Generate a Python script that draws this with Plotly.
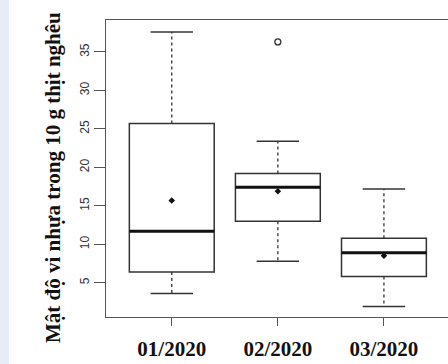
import plotly.graph_objects as go

categories = ["01/2020", "02/2020", "03/2020"]
lower_whisker = [3.6, 7.8, 1.9]
q1 = [6.4, 13.0, 5.8]
median = [11.7, 17.4, 8.9]
q3 = [25.7, 19.2, 10.8]
upper_whisker = [37.6, 23.4, 17.2]
means = [15.7, 16.9, 8.5]
outlier_cat = [2]
outlier_val = [36.3]
y_ticks = [5, 10, 15, 20, 25, 30, 35]

BOX_W = 0.8
CAP_W = 0.4
positions = [i + 1 for i in range(len(categories))]

fig = go.Figure()

for i, p in enumerate(positions):
    fig.add_trace(go.Box(
        x=[p], q1=[q1[i]], median=[median[i]], q3=[q3[i]],
        lowerfence=[q1[i]], upperfence=[q3[i]],
        width=BOX_W, whiskerwidth=0,
        fillcolor="white", line=dict(color="#333333", width=1.5),
        showlegend=False, hoverinfo="skip",
    ))
    # whiskers
    fig.add_trace(go.Scatter(
        x=[p, p, None, p, p],
        y=[q3[i], upper_whisker[i], None, q1[i], lower_whisker[i]],
        mode="lines", line=dict(color="#333333", width=1.3, dash="3px,3px"),
        showlegend=False, hoverinfo="skip",
    ))
    # caps
    fig.add_trace(go.Scatter(
        x=[p - CAP_W / 2, p + CAP_W / 2, None, p - CAP_W / 2, p + CAP_W / 2],
        y=[upper_whisker[i], upper_whisker[i], None, lower_whisker[i], lower_whisker[i]],
        mode="lines", line=dict(color="#333333", width=1.5),
        showlegend=False, hoverinfo="skip",
    ))
    # median
    fig.add_trace(go.Scatter(
        x=[p - BOX_W / 2, p + BOX_W / 2], y=[median[i], median[i]],
        mode="lines", line=dict(color="#111111", width=3),
        showlegend=False, hoverinfo="skip",
    ))

fig.add_trace(go.Scatter(
    x=positions, y=means, mode="markers",
    marker=dict(symbol="diamond", size=5, color="#111111"),
    showlegend=False, hoverinfo="skip",
))
fig.add_trace(go.Scatter(
    x=outlier_cat, y=outlier_val, mode="markers",
    marker=dict(symbol="circle-open", size=6, color="#333333", line=dict(width=1.3)),
    showlegend=False, hoverinfo="skip",
))

W, H = 448, 364
ml, mr, mt, mb = 106, 0, 20, 47
pw = W - ml - mr
ph = H - mt - mb

fig.update_layout(
    width=W, height=H,
    margin=dict(l=ml, r=mr, t=mt, b=mb, pad=0),
    paper_bgcolor="white", plot_bgcolor="white",
    showlegend=False,
    xaxis=dict(
        range=[0.38, 3.604], tickvals=positions, ticktext=categories,
        showgrid=False, zeroline=False,
        showline=True, linecolor="#555555", linewidth=1.3, mirror=True,
        ticks="outside", ticklen=8, tickcolor="#555555", tickwidth=1.3,
        ticklabelstandoff=5,
        tickfont=dict(family="Liberation Serif", size=21, color="#111111", weight="bold"),
    ),
    yaxis=dict(
        range=[0.55, 39.15], tickvals=y_ticks,
        showgrid=False, zeroline=False,
        showline=True, linecolor="#555555", linewidth=1.3, mirror=False,
        ticks="outside", ticklen=11, tickcolor="#555555", tickwidth=1.3,
        tickangle=-90,
        tickfont=dict(family="Liberation Sans", size=12, color="#333333"),
    ),
    shapes=[dict(
        type="rect", xref="paper", yref="paper",
        x0=(0 - ml) / pw, x1=(9 - ml) / pw, y0=-mb / ph, y1=1 + mt / ph,
        fillcolor="#e8ecf6", line=dict(width=0), layer="below",
    )],
    annotations=[dict(
        text="Mật độ vi nhựa trong 10 g thịt nghêu",
        xref="paper", yref="paper",
        x=(53 - ml) / pw, y=(H - mb - 178) / ph,
        xanchor="center", yanchor="middle", textangle=-90, showarrow=False,
        font=dict(family="Liberation Serif", size=21, color="#111111", weight="bold"),
    )],
)

fig.write_html("out.html")
